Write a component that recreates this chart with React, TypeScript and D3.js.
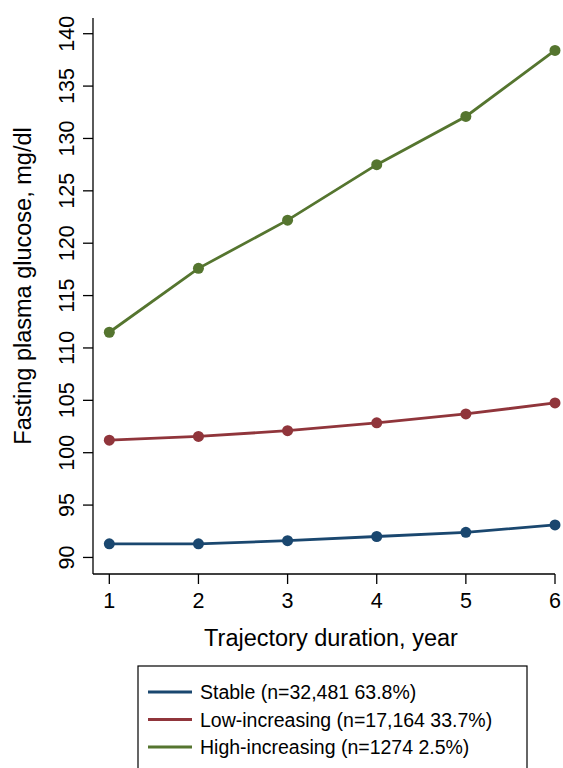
import React from "react";
import * as d3 from "d3";

const width = 563;
const height = 768;

// plot area (pixel edges of the axes)
const plot = { left: 93, right: 555, top: 18, bottom: 574 };

const years = [1, 2, 3, 4, 5, 6];
const stable = [91.3, 91.3, 91.6, 92.0, 92.4, 93.1];
const lowIncreasing = [101.2, 101.55, 102.1, 102.85, 103.7, 104.75];
const highIncreasing = [111.5, 117.6, 122.2, 127.5, 132.1, 138.4];

const yTicks = [90, 95, 100, 105, 110, 115, 120, 125, 130, 135, 140];
const xTicks = [1, 2, 3, 4, 5, 6];

const seriesNames = [
  "Stable (n=32,481 63.8%)",
  "Low-increasing (n=17,164 33.7%)",
  "High-increasing (n=1274 2.5%)",
];
const seriesColors = ["#1a476f", "#90353b", "#55752f"];
const seriesValues = [stable, lowIncreasing, highIncreasing];

const font = "'Liberation Sans', Arial, Helvetica, sans-serif";

export default function App() {
  const x = d3.scaleLinear().domain([0.817, 6]).range([plot.left, plot.right]);
  const y = d3.scaleLinear().domain([88.42, 141.5]).range([plot.bottom, plot.top]);

  const line = d3
    .line<number>()
    .x((_, i) => x(years[i]))
    .y((d) => y(d));

  return (
    <svg
      width={width}
      height={height}
      style={{ position: "absolute", left: 0, top: 0, background: "#fff" }}
      fontFamily={font}
    >
      <rect width={width} height={height} fill="#fff" />

      {/* y axis */}
      <line x1={plot.left} x2={plot.left} y1={plot.top} y2={plot.bottom} stroke="#000" strokeWidth={1.3} />
      {yTicks.map((t) => (
        <g key={t}>
          <line x1={plot.left - 10} x2={plot.left} y1={y(t)} y2={y(t)} stroke="#000" strokeWidth={1.3} />
          <text
            transform={`translate(${plot.left - 19},${y(t)}) rotate(-90)`}
            textAnchor="middle"
            fontSize={21.5}
          >
            {t}
          </text>
        </g>
      ))}
      <text
        transform={`translate(31,286) rotate(-90)`}
        textAnchor="middle"
        fontSize={23.5}
      >
        Fasting plasma glucose, mg/dl
      </text>

      {/* x axis */}
      <line x1={plot.left} x2={plot.right} y1={plot.bottom} y2={plot.bottom} stroke="#000" strokeWidth={1.3} />
      {xTicks.map((t) => (
        <g key={t}>
          <line x1={x(t)} x2={x(t)} y1={plot.bottom} y2={plot.bottom + 10} stroke="#000" strokeWidth={1.3} />
          <text x={x(t)} y={608} textAnchor="middle" fontSize={21.5}>
            {t}
          </text>
        </g>
      ))}
      <text x={331} y={646} textAnchor="middle" fontSize={23.5}>
        Trajectory duration, year
      </text>

      {/* series */}
      {seriesValues.map((vals, s) => (
        <g key={s}>
          <path d={line(vals) || ""} fill="none" stroke={seriesColors[s]} strokeWidth={2.8} />
          {vals.map((v, i) => (
            <circle key={i} cx={x(years[i])} cy={y(v)} r={5.5} fill={seriesColors[s]} />
          ))}
        </g>
      ))}

      {/* legend */}
      <rect x={138} y={666} width={389} height={120} fill="#fff" stroke="#000" strokeWidth={1.2} />
      {seriesNames.map((name, i) => (
        <g key={name} transform={`translate(0,${692 + i * 27.5})`}>
          <line x1={148} x2={192} y1={0} y2={0} stroke={seriesColors[i]} strokeWidth={2.8} />
          <text x={200} y={7} fontSize={19.5}>
            {name}
          </text>
        </g>
      ))}
    </svg>
  );
}
